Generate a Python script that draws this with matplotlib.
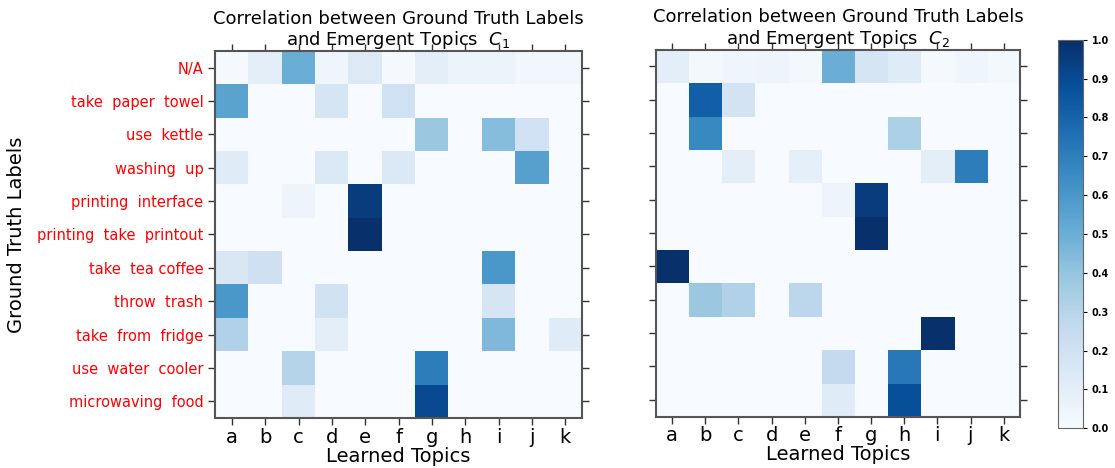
import numpy as np
import matplotlib
matplotlib.use("Agg")
import matplotlib.pyplot as plt

## Data
gt_labels = ["N/A", "take  paper  towel", "use  kettle", "washing  up",
             "printing  interface", "printing  take  printout", "take  tea coffee",
             "throw  trash", "take  from  fridge", "use  water  cooler",
             "microwaving  food"]
topics = ["a", "b", "c", "d", "e", "f", "g", "h", "i", "j", "k"]

corr_c1 = [
    [0.01, 0.10, 0.50, 0.04, 0.13, 0.01, 0.10, 0.06, 0.06, 0.03, 0.03],
    [0.55, 0.00, 0.00, 0.17, 0.00, 0.20, 0.00, 0.00, 0.00, 0.00, 0.00],
    [0.00, 0.00, 0.00, 0.00, 0.00, 0.00, 0.38, 0.00, 0.43, 0.20, 0.00],
    [0.12, 0.00, 0.00, 0.14, 0.00, 0.14, 0.00, 0.00, 0.00, 0.56, 0.00],
    [0.00, 0.00, 0.05, 0.00, 0.95, 0.00, 0.00, 0.00, 0.00, 0.00, 0.00],
    [0.00, 0.00, 0.00, 0.00, 1.00, 0.00, 0.00, 0.00, 0.00, 0.00, 0.00],
    [0.15, 0.21, 0.00, 0.00, 0.00, 0.00, 0.00, 0.00, 0.60, 0.00, 0.00],
    [0.60, 0.00, 0.00, 0.19, 0.00, 0.00, 0.00, 0.00, 0.17, 0.00, 0.00],
    [0.32, 0.00, 0.00, 0.10, 0.00, 0.00, 0.00, 0.00, 0.45, 0.00, 0.12],
    [0.00, 0.00, 0.30, 0.00, 0.00, 0.00, 0.70, 0.00, 0.00, 0.00, 0.00],
    [0.00, 0.00, 0.12, 0.00, 0.00, 0.00, 0.90, 0.00, 0.00, 0.00, 0.00],
]

corr_c2 = [
    [0.10, 0.02, 0.04, 0.05, 0.02, 0.50, 0.17, 0.12, 0.01, 0.04, 0.02],
    [0.00, 0.82, 0.18, 0.00, 0.00, 0.00, 0.00, 0.00, 0.00, 0.00, 0.00],
    [0.00, 0.66, 0.00, 0.00, 0.00, 0.00, 0.00, 0.33, 0.00, 0.00, 0.00],
    [0.00, 0.00, 0.10, 0.00, 0.09, 0.00, 0.00, 0.00, 0.10, 0.70, 0.00],
    [0.00, 0.00, 0.00, 0.00, 0.00, 0.05, 0.95, 0.00, 0.00, 0.00, 0.00],
    [0.00, 0.00, 0.00, 0.00, 0.00, 0.00, 1.00, 0.00, 0.00, 0.00, 0.00],
    [1.00, 0.00, 0.00, 0.00, 0.00, 0.00, 0.00, 0.00, 0.00, 0.00, 0.00],
    [0.00, 0.38, 0.32, 0.00, 0.28, 0.00, 0.00, 0.00, 0.00, 0.00, 0.00],
    [0.00, 0.00, 0.00, 0.00, 0.00, 0.00, 0.00, 0.00, 1.00, 0.00, 0.00],
    [0.00, 0.00, 0.00, 0.00, 0.00, 0.25, 0.00, 0.72, 0.00, 0.00, 0.00],
    [0.00, 0.00, 0.00, 0.00, 0.00, 0.12, 0.00, 0.88, 0.00, 0.00, 0.00],
]

titles = ["Correlation between Ground Truth Labels\nand Emergent Topics  $C_1$",
          "Correlation between Ground Truth Labels\nand Emergent Topics  $C_2$"]

## Plotting
fig = plt.figure(figsize=(11.15, 4.68), dpi=100)
ax1 = fig.add_axes([0.193, 0.107, 0.329, 0.784])
ax2 = fig.add_axes([0.588, 0.110, 0.327, 0.784])
cax = fig.add_axes([0.949, 0.085, 0.022, 0.83])

for ax, data, title in zip([ax1, ax2], [corr_c1, corr_c2], titles):
    im = ax.imshow(np.array(data), cmap="Blues", vmin=0.0, vmax=1.0,
                   aspect="auto", interpolation="nearest")
    ax.set_xticks(range(len(topics)))
    ax.set_xticklabels(topics, fontsize=14)
    ax.set_yticks(range(len(gt_labels)))
    ax.tick_params(direction="out", top=True, right=True, length=5,
                   width=1, color="#333333")
    ax.tick_params(axis="x", pad=2)
    ax.set_xlabel("Learned Topics", fontsize=14, labelpad=0)
    ax.set_title(title, fontsize=13, pad=4, linespacing=1.1)
    for s in ax.spines.values():
        s.set_color("#555555")
        s.set_linewidth(1.5)

ax1.set_yticklabels(gt_labels, fontsize=10.5, color="red")
ax1.set_ylabel("Ground Truth Labels", fontsize=14, labelpad=8)
ax2.set_yticklabels([])

cb = fig.colorbar(im, cax=cax, ticks=np.arange(0, 1.01, 0.1))
cb.ax.set_yticklabels([f"{t:.1f}" for t in np.arange(0, 1.01, 0.1)],
                      fontsize=7, fontweight="bold")
cb.ax.tick_params(length=3, width=0.8)
cb.outline.set_edgecolor("#666666")

fig.savefig("out.png", dpi=100)
